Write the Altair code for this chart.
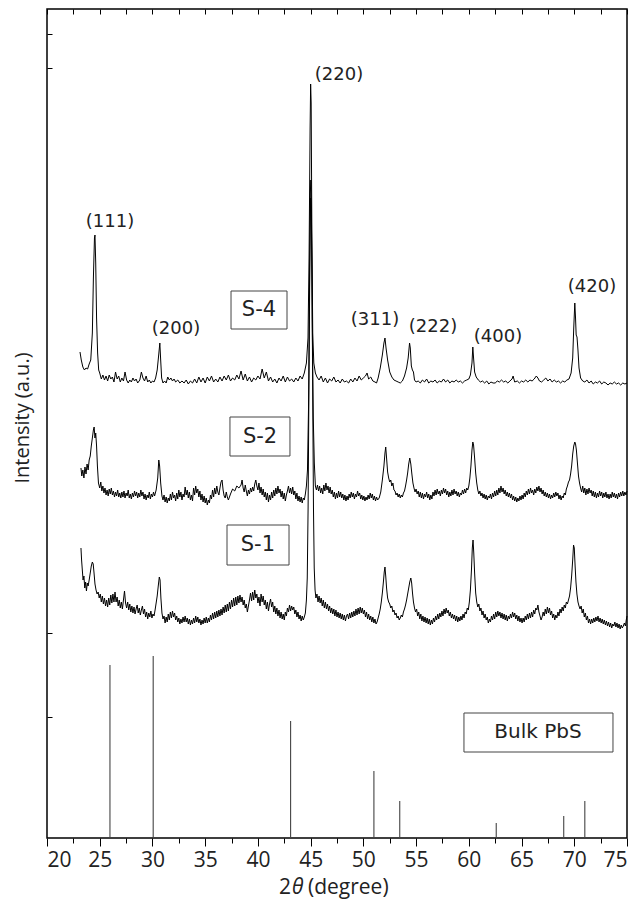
import altair as alt
import pandas as pd

# ---------------- data (2theta in degree, intensity in a.u.) ----------------
s4 = [(23.13,486),(23.25,478),(23.4,471),(23.55,468),(23.7,470),(23.85,469),(24.0,474),(24.15,478),(24.3,505),(24.4,560),(24.5,600),(24.55,603),(24.62,575),(24.7,520),(24.8,485),(24.9,468),(25.0,465),(25.15,459),(25.3,463),(25.45,458),(25.6,462),(25.75,457),(25.9,463),(26.05,459),(26.2,461),(26.35,456),(26.5,466),(26.65,459),(26.8,462),(26.95,456),(27.1,460),(27.25,457),(27.4,466),(27.55,458),(27.7,455),(27.85,458),(28.0,456),(28.15,460),(28.3,457),(28.45,459),(28.6,455),(28.8,458),(28.95,466),(29.1,460),(29.25,457),(29.4,462),(29.55,456),(29.7,458),(29.85,455),(30.0,457),(30.15,456),(30.3,460),(30.45,468),(30.6,484),(30.7,495),(30.78,478),(30.87,460),(31.0,455),(31.15,457),(31.3,455),(31.45,461),(31.6,458),(31.75,460),(31.9,457),(32.05,459),(32.2,456),(32.4,458),(32.6,455),(32.8,457),(33.0,455),(33.2,458),(33.4,454),(33.6,457),(33.8,455),(34.0,459),(34.2,455),(34.4,461),(34.6,456),(34.8,460),(35.0,455),(35.2,461),(35.4,457),(35.6,462),(35.8,456),(36.0,459),(36.2,456),(36.4,461),(36.6,457),(36.8,462),(37.0,458),(37.2,463),(37.4,457),(37.6,460),(37.8,458),(38.0,463),(38.2,459),(38.4,467),(38.6,458),(38.8,464),(39.0,457),(39.2,461),(39.4,456),(39.6,460),(39.8,458),(40.0,462),(40.2,459),(40.4,469),(40.6,460),(40.8,466),(41.0,457),(41.2,461),(41.4,456),(41.6,459),(41.8,455),(42.0,460),(42.2,457),(42.4,462),(42.6,456),(42.8,461),(43.0,457),(43.2,459),(43.4,456),(43.6,460),(43.8,457),(44.0,462),(44.2,459),(44.4,465),(44.6,475),(44.75,500),(44.85,580),(44.95,710),(45.0,754),(45.05,735),(45.12,600),(45.2,505),(45.3,475),(45.45,465),(45.6,461),(45.8,458),(46.0,462),(46.2,456),(46.4,460),(46.6,455),(46.8,459),(47.0,457),(47.2,461),(47.4,456),(47.6,458),(47.8,455),(48.0,459),(48.2,456),(48.4,457),(48.6,455),(48.8,459),(49.0,456),(49.2,460),(49.4,457),(49.6,462),(49.8,458),(50.0,460),(50.2,462),(50.35,465),(50.5,459),(50.7,461),(50.9,457),(51.1,456),(51.25,455),(51.4,460),(51.6,470),(51.8,483),(51.95,495),(52.05,500),(52.15,490),(52.3,478),(52.5,466),(52.7,461),(52.9,458),(53.1,457),(53.3,456),(53.5,455),(53.7,457),(53.9,462),(54.1,470),(54.25,480),(54.38,495),(54.45,490),(54.55,472),(54.65,468),(54.75,466),(54.85,458),(55.0,456),(55.2,457),(55.4,455),(55.6,458),(55.8,456),(56.0,459),(56.2,455),(56.4,457),(56.6,456),(56.8,458),(57.0,455),(57.2,457),(57.4,456),(57.6,459),(57.8,456),(58.0,458),(58.2,455),(58.4,457),(58.6,456),(58.8,458),(59.0,456),(59.2,457),(59.4,455),(59.6,457),(59.8,458),(60.0,459),(60.15,463),(60.3,475),(60.38,491),(60.45,480),(60.55,466),(60.7,461),(60.9,458),(61.1,456),(61.3,457),(61.5,455),(61.7,457),(61.9,454),(62.1,456),(62.3,455),(62.5,455),(62.7,457),(62.9,456),(63.1,458),(63.3,456),(63.5,457),(63.7,455),(63.9,457),(64.1,459),(64.2,462),(64.35,456),(64.6,457),(64.8,455),(65.0,457),(65.2,456),(65.4,458),(65.6,456),(65.8,458),(66.0,457),(66.2,459),(66.4,462),(66.55,460),(66.7,457),(66.9,456),(67.1,458),(67.3,460),(67.5,457),(67.7,459),(67.9,456),(68.1,458),(68.3,456),(68.5,457),(68.7,455),(68.9,457),(69.1,456),(69.3,458),(69.5,459),(69.7,465),(69.85,480),(69.95,510),(70.05,535),(70.12,520),(70.18,503),(70.26,501),(70.35,488),(70.45,470),(70.6,460),(70.8,457),(71.0,456),(71.2,458),(71.4,455),(71.6,457),(71.8,454),(72.0,456),(72.2,455),(72.4,457),(72.6,454),(72.8,456),(73.0,455),(73.2,453),(73.4,455),(73.6,454),(73.8,456),(74.0,454),(74.2,455),(74.4,453),(74.6,455),(74.8,454),(75.0,455)]

s2 = [(23.22,370),(23.3,362),(23.4,368),(23.5,360),(23.6,371),(23.7,364),(23.8,374),(23.9,368),(24.0,378),(24.1,382),(24.2,392),(24.3,400),(24.4,408),(24.47,411),(24.55,400),(24.62,405),(24.7,392),(24.78,372),(24.88,355),(25.0,350),(25.1,356),(25.2,347),(25.3,352),(25.4,345),(25.5,350),(25.6,343),(25.7,348),(25.8,342),(25.9,349),(26.0,344),(26.1,350),(26.2,343),(26.3,347),(26.4,341),(26.5,346),(26.6,342),(26.7,348),(26.8,341),(26.9,345),(27.0,340),(27.1,346),(27.2,341),(27.3,347),(27.4,340),(27.5,345),(27.6,342),(27.7,348),(27.8,340),(27.9,344),(28.0,339),(28.1,345),(28.2,341),(28.3,347),(28.4,342),(28.5,346),(28.6,340),(28.7,345),(28.8,341),(28.9,348),(29.0,342),(29.1,346),(29.2,339),(29.3,344),(29.4,338),(29.5,343),(29.6,340),(29.7,346),(29.8,339),(29.9,344),(30.0,341),(30.1,346),(30.2,342),(30.35,348),(30.5,360),(30.6,378),(30.68,372),(30.78,355),(30.9,342),(31.0,338),(31.1,343),(31.2,336),(31.3,341),(31.4,335),(31.5,340),(31.6,337),(31.7,344),(31.8,338),(31.9,346),(32.0,340),(32.1,343),(32.2,337),(32.3,345),(32.4,339),(32.5,348),(32.6,341),(32.7,346),(32.8,338),(32.9,344),(33.0,341),(33.1,351),(33.2,343),(33.3,348),(33.4,340),(33.5,346),(33.6,338),(33.7,343),(33.8,337),(33.9,350),(34.0,343),(34.1,352),(34.2,345),(34.3,349),(34.4,341),(34.5,347),(34.6,338),(34.7,344),(34.8,336),(34.9,342),(35.0,335),(35.1,340),(35.2,333),(35.3,338),(35.4,335),(35.5,343),(35.6,339),(35.7,348),(35.8,341),(35.9,350),(36.0,344),(36.1,352),(36.2,346),(36.3,343),(36.4,350),(36.5,356),(36.6,358),(36.7,348),(36.8,342),(36.9,340),(37.0,346),(37.1,341),(37.2,338),(37.4,344),(37.6,349),(37.8,347),(38.0,352),(38.2,350),(38.4,353),(38.5,358),(38.6,350),(38.7,346),(38.8,353),(38.9,347),(39.0,342),(39.1,348),(39.2,344),(39.3,350),(39.4,346),(39.5,351),(39.6,347),(39.7,354),(39.8,358),(39.9,352),(40.0,348),(40.1,355),(40.2,345),(40.3,351),(40.4,343),(40.5,349),(40.6,341),(40.7,346),(40.8,338),(40.9,345),(41.0,336),(41.1,343),(41.2,338),(41.3,346),(41.4,340),(41.5,348),(41.6,342),(41.7,350),(41.8,344),(41.9,352),(42.0,345),(42.1,349),(42.2,341),(42.3,347),(42.4,339),(42.5,345),(42.6,337),(42.7,343),(42.8,347),(42.9,352),(43.0,345),(43.1,350),(43.2,344),(43.3,351),(43.4,343),(43.5,347),(43.6,339),(43.7,345),(43.8,337),(43.9,342),(44.0,336),(44.1,341),(44.2,335),(44.3,340),(44.4,338),(44.5,344),(44.6,352),(44.7,368),(44.8,430),(44.9,560),(44.97,645),(45.02,658),(45.08,620),(45.15,520),(45.25,420),(45.35,375),(45.45,352),(45.55,348),(45.65,353),(45.75,347),(45.85,352),(45.95,345),(46.05,350),(46.15,344),(46.25,353),(46.35,347),(46.45,355),(46.55,348),(46.65,352),(46.75,345),(46.85,351),(46.95,344),(47.05,348),(47.15,341),(47.25,346),(47.35,339),(47.45,345),(47.55,340),(47.65,347),(47.75,341),(47.85,346),(47.95,340),(48.05,344),(48.15,338),(48.25,343),(48.35,337),(48.45,342),(48.55,338),(48.65,344),(48.75,340),(48.85,346),(48.95,341),(49.05,345),(49.15,339),(49.25,344),(49.35,341),(49.45,347),(49.55,342),(49.65,345),(49.75,339),(49.85,343),(49.95,338),(50.05,342),(50.15,337),(50.25,341),(50.35,338),(50.45,343),(50.55,339),(50.65,345),(50.75,340),(50.85,344),(50.95,338),(51.05,342),(51.15,337),(51.25,341),(51.35,338),(51.5,340),(51.65,346),(51.8,358),(51.95,372),(52.05,385),(52.12,391),(52.2,380),(52.3,366),(52.4,360),(52.5,356),(52.6,358),(52.7,352),(52.8,355),(52.9,348),(53.0,347),(53.1,343),(53.2,345),(53.3,341),(53.4,344),(53.5,340),(53.6,343),(53.7,341),(53.8,345),(53.9,347),(54.0,352),(54.1,358),(54.2,365),(54.3,374),(54.4,380),(54.5,374),(54.6,364),(54.7,355),(54.8,350),(54.9,346),(55.0,349),(55.1,344),(55.2,347),(55.3,341),(55.4,346),(55.5,340),(55.6,345),(55.7,339),(55.8,344),(55.9,341),(56.0,346),(56.1,340),(56.2,344),(56.3,338),(56.4,343),(56.5,339),(56.6,346),(56.7,342),(56.8,348),(56.9,343),(57.0,349),(57.1,344),(57.2,347),(57.3,342),(57.4,348),(57.5,344),(57.6,350),(57.7,345),(57.8,349),(57.9,343),(58.0,347),(58.1,341),(58.2,346),(58.3,342),(58.4,348),(58.5,343),(58.6,349),(58.7,344),(58.8,347),(58.9,342),(59.0,346),(59.1,341),(59.2,345),(59.3,343),(59.4,348),(59.5,344),(59.6,349),(59.7,345),(59.8,350),(59.9,348),(60.0,352),(60.1,360),(60.2,372),(60.3,388),(60.38,396),(60.45,393),(60.55,380),(60.65,365),(60.75,355),(60.85,348),(60.95,344),(61.05,347),(61.15,342),(61.25,345),(61.35,340),(61.45,344),(61.55,339),(61.65,343),(61.75,338),(61.85,342),(61.95,340),(62.05,344),(62.15,339),(62.25,345),(62.35,341),(62.45,347),(62.55,342),(62.65,348),(62.75,343),(62.85,350),(62.95,345),(63.05,352),(63.15,346),(63.25,350),(63.35,344),(63.45,348),(63.55,342),(63.65,346),(63.75,341),(63.85,345),(63.95,340),(64.05,344),(64.15,338),(64.25,342),(64.35,337),(64.45,341),(64.55,336),(64.65,340),(64.75,337),(64.85,342),(64.95,338),(65.05,343),(65.15,339),(65.25,345),(65.35,341),(65.45,347),(65.55,343),(65.65,349),(65.75,344),(65.85,350),(65.95,345),(66.05,348),(66.15,343),(66.25,349),(66.35,345),(66.45,351),(66.55,347),(66.65,352),(66.75,346),(66.85,350),(66.95,344),(67.05,348),(67.15,342),(67.25,346),(67.35,341),(67.45,345),(67.55,340),(67.65,344),(67.75,339),(67.85,343),(67.95,340),(68.05,345),(68.15,341),(68.25,346),(68.35,342),(68.45,345),(68.55,339),(68.65,343),(68.75,338),(68.85,342),(68.95,340),(69.05,345),(69.15,343),(69.25,349),(69.35,352),(69.45,356),(69.55,358),(69.65,364),(69.75,372),(69.85,384),(69.95,392),(70.05,396),(70.12,394),(70.2,388),(70.3,375),(70.4,362),(70.5,355),(70.6,350),(70.7,346),(70.8,352),(70.9,345),(71.0,350),(71.1,343),(71.2,349),(71.3,344),(71.4,350),(71.5,345),(71.6,348),(71.7,342),(71.8,347),(71.9,341),(72.0,346),(72.1,340),(72.2,345),(72.3,341),(72.4,347),(72.5,342),(72.6,346),(72.7,340),(72.8,345),(72.9,341),(73.0,346),(73.1,340),(73.2,344),(73.3,339),(73.4,344),(73.5,340),(73.6,346),(73.7,341),(73.8,345),(73.9,340),(74.0,344),(74.1,339),(74.2,345),(74.3,341),(74.4,346),(74.5,342),(74.6,347),(74.7,342),(74.8,346),(74.9,343),(75.0,347)]

s1 = [(23.22,290),(23.28,278),(23.35,268),(23.42,258),(23.5,262),(23.58,250),(23.66,256),(23.74,247),(23.82,255),(23.9,252),(24.0,258),(24.1,265),(24.2,272),(24.3,276),(24.38,274),(24.46,265),(24.55,254),(24.65,248),(24.75,244),(24.85,246),(24.95,240),(25.05,244),(25.15,236),(25.25,242),(25.35,234),(25.45,240),(25.55,232),(25.65,238),(25.75,231),(25.85,240),(25.95,233),(26.05,243),(26.15,235),(26.25,244),(26.35,236),(26.45,246),(26.55,236),(26.65,241),(26.75,232),(26.85,238),(26.95,230),(27.05,236),(27.15,229),(27.25,238),(27.35,247),(27.45,235),(27.55,230),(27.65,236),(27.75,228),(27.85,234),(27.95,226),(28.05,232),(28.15,225),(28.25,231),(28.35,224),(28.45,229),(28.55,233),(28.65,225),(28.75,230),(28.85,223),(28.95,228),(29.05,232),(29.15,224),(29.25,229),(29.35,221),(29.45,226),(29.55,219),(29.65,225),(29.75,221),(29.85,227),(29.95,220),(30.05,224),(30.15,222),(30.25,228),(30.35,235),(30.45,242),(30.55,252),(30.65,261),(30.72,258),(30.8,240),(30.9,225),(31.0,219),(31.1,222),(31.2,215),(31.3,221),(31.4,216),(31.5,224),(31.6,218),(31.7,226),(31.8,220),(31.9,227),(32.0,221),(32.1,225),(32.2,218),(32.3,222),(32.4,216),(32.5,220),(32.6,214),(32.7,219),(32.8,215),(32.9,221),(33.0,216),(33.1,222),(33.2,216),(33.3,220),(33.4,214),(33.5,219),(33.6,213),(33.7,218),(33.8,214),(33.9,220),(34.0,215),(34.1,222),(34.2,216),(34.3,221),(34.4,215),(34.5,219),(34.6,213),(34.7,218),(34.8,214),(34.9,220),(35.0,215),(35.1,221),(35.2,215),(35.3,220),(35.4,216),(35.5,223),(35.6,218),(35.7,225),(35.8,219),(35.9,226),(36.0,220),(36.1,227),(36.2,221),(36.3,228),(36.4,222),(36.5,229),(36.6,223),(36.7,231),(36.8,225),(36.9,233),(37.0,226),(37.1,234),(37.2,227),(37.3,236),(37.4,229),(37.5,238),(37.6,231),(37.7,240),(37.8,232),(37.9,241),(38.0,233),(38.1,242),(38.2,235),(38.3,243),(38.4,236),(38.5,241),(38.6,233),(38.7,238),(38.8,230),(38.9,234),(39.0,226),(39.1,232),(39.2,238),(39.3,245),(39.4,237),(39.5,246),(39.6,238),(39.7,248),(39.8,240),(39.9,244),(40.0,235),(40.1,241),(40.2,232),(40.3,244),(40.4,236),(40.5,242),(40.6,233),(40.7,238),(40.8,229),(40.9,236),(41.0,227),(41.1,234),(41.2,239),(41.3,231),(41.4,236),(41.5,226),(41.6,232),(41.7,224),(41.8,230),(41.9,222),(42.0,228),(42.1,220),(42.2,226),(42.3,219),(42.4,224),(42.5,218),(42.6,226),(42.7,222),(42.8,230),(42.9,226),(43.0,233),(43.1,227),(43.2,232),(43.3,228),(43.4,231),(43.5,224),(43.6,228),(43.7,221),(43.8,226),(43.9,219),(44.0,223),(44.1,217),(44.2,222),(44.3,218),(44.4,221),(44.5,225),(44.6,238),(44.68,260),(44.76,330),(44.84,450),(44.92,570),(45.0,640),(45.06,630),(45.13,560),(45.2,440),(45.27,330),(45.34,270),(45.42,248),(45.5,240),(45.6,244),(45.7,236),(45.8,242),(45.9,235),(46.0,240),(46.1,232),(46.2,238),(46.3,230),(46.4,236),(46.5,229),(46.6,234),(46.7,227),(46.8,232),(46.9,225),(47.0,230),(47.1,224),(47.2,229),(47.3,222),(47.4,228),(47.5,221),(47.6,226),(47.7,220),(47.8,225),(47.9,219),(48.0,224),(48.1,218),(48.2,223),(48.3,217),(48.4,222),(48.5,224),(48.6,219),(48.7,225),(48.8,220),(48.9,226),(49.0,221),(49.1,227),(49.2,222),(49.3,229),(49.4,223),(49.5,230),(49.6,224),(49.7,231),(49.8,225),(49.9,230),(50.0,224),(50.1,228),(50.2,221),(50.3,226),(50.4,219),(50.5,224),(50.6,218),(50.7,222),(50.8,216),(50.9,221),(51.0,215),(51.1,219),(51.2,214),(51.3,216),(51.4,220),(51.5,224),(51.6,229),(51.7,236),(51.8,245),(51.9,256),(51.98,266),(52.05,271),(52.12,262),(52.2,250),(52.3,240),(52.4,236),(52.5,234),(52.6,230),(52.7,232),(52.8,226),(52.9,228),(53.0,223),(53.1,225),(53.2,220),(53.3,222),(53.4,218),(53.5,220),(53.6,223),(53.7,221),(53.8,226),(53.9,229),(54.0,233),(54.1,238),(54.2,244),(54.3,250),(54.4,256),(54.5,260),(54.58,255),(54.66,245),(54.75,236),(54.85,230),(54.95,226),(55.05,229),(55.15,222),(55.25,226),(55.35,219),(55.45,224),(55.55,217),(55.65,222),(55.75,216),(55.85,221),(55.95,215),(56.05,220),(56.15,214),(56.25,219),(56.35,213),(56.45,218),(56.55,214),(56.65,220),(56.75,216),(56.85,222),(56.95,218),(57.05,224),(57.15,219),(57.25,225),(57.35,221),(57.45,227),(57.55,222),(57.65,229),(57.75,224),(57.85,230),(57.95,225),(58.05,228),(58.15,222),(58.25,226),(58.35,220),(58.45,224),(58.55,219),(58.65,223),(58.75,217),(58.85,222),(58.95,216),(59.05,221),(59.15,217),(59.25,222),(59.35,218),(59.45,224),(59.55,220),(59.65,226),(59.75,224),(59.85,230),(59.95,228),(60.05,236),(60.15,248),(60.25,268),(60.33,290),(60.4,298),(60.47,285),(60.55,265),(60.65,245),(60.75,236),(60.85,231),(60.95,234),(61.05,227),(61.15,230),(61.25,223),(61.35,227),(61.45,220),(61.55,224),(61.65,218),(61.75,221),(61.85,215),(61.95,219),(62.05,216),(62.15,222),(62.25,218),(62.35,224),(62.45,219),(62.55,226),(62.65,221),(62.75,227),(62.85,222),(62.95,226),(63.05,220),(63.15,225),(63.25,219),(63.35,224),(63.45,218),(63.55,223),(63.65,217),(63.75,222),(63.85,219),(63.95,224),(64.05,220),(64.15,226),(64.25,221),(64.35,225),(64.45,219),(64.55,223),(64.65,217),(64.75,222),(64.85,216),(64.95,220),(65.05,215),(65.15,220),(65.25,216),(65.35,222),(65.45,218),(65.55,224),(65.65,219),(65.75,225),(65.85,220),(65.95,226),(66.05,221),(66.15,228),(66.25,224),(66.35,230),(66.45,228),(66.55,233),(66.65,226),(66.75,222),(66.85,218),(66.95,221),(67.05,226),(67.15,222),(67.25,229),(67.35,224),(67.45,231),(67.55,225),(67.65,230),(67.75,223),(67.85,227),(67.95,220),(68.05,224),(68.15,218),(68.25,223),(68.35,220),(68.45,226),(68.55,222),(68.65,229),(68.75,225),(68.85,231),(68.95,227),(69.05,233),(69.15,230),(69.25,236),(69.35,234),(69.45,238),(69.55,242),(69.65,250),(69.75,262),(69.85,278),(69.93,293),(70.0,290),(70.08,272),(70.16,256),(70.25,244),(70.35,236),(70.45,232),(70.55,229),(70.65,232),(70.75,225),(70.85,229),(70.95,221),(71.05,225),(71.15,218),(71.25,222),(71.35,215),(71.45,219),(71.55,214),(71.65,219),(71.75,215),(71.85,220),(71.95,216),(72.05,221),(72.15,217),(72.25,222),(72.35,216),(72.45,220),(72.55,215),(72.65,219),(72.75,214),(72.85,218),(72.95,213),(73.05,217),(73.15,212),(73.25,216),(73.35,211),(73.45,215),(73.55,210),(73.65,214),(73.75,212),(73.85,216),(73.95,211),(74.05,215),(74.15,210),(74.25,214),(74.35,209),(74.45,213),(74.55,210),(74.65,212),(74.75,215),(74.85,212),(74.93,218),(75.0,222)]

bulk_angle = [25.97, 30.07, 43.1, 51.0, 53.45, 62.6, 69.0, 71.0]
bulk_intensity = [173, 182, 117, 67, 37, 15, 22, 37]

peak_labels = ["(111)", "(200)", "(220)", "(311)", "(222)", "(400)", "(420)"]
peak_label_angle = [25.97, 32.23, 47.69, 51.1, 56.6, 62.77, 71.68]
peak_label_intensity = [616, 509, 763, 518, 511, 501, 551]

box_labels = ["S-4", "S-2", "S-1", "Bulk PbS"]
box_x1 = [37.45, 37.35, 37.07, 59.54]
box_x2 = [42.76, 43.04, 42.95, 73.67]
box_y1 = [509, 382, 273, 86]
box_y2 = [547, 421, 313, 125]
box_text_angle = [40.1, 40.2, 40.0, 66.56]
box_text_intensity = [528, 401, 293, 106]
box_font = [21, 21, 21, 20]

x_ticks = [20 + 2.5 * i for i in range(23)]
y_ticks_left = [804, 770, 205, 121]

# ---------------- tables ----------------
rows = []
for name, ser in (("S-4", s4), ("S-2", s2), ("S-1", s1)):
    for i, (a, v) in enumerate(ser):
        rows.append({"series": name, "idx": i, "angle": a, "intensity": v})
curves = pd.DataFrame(rows)
bulk = pd.DataFrame({"angle": bulk_angle, "intensity": bulk_intensity, "zero": [0] * len(bulk_angle)})
peaks = pd.DataFrame({"label": peak_labels, "angle": peak_label_angle, "intensity": peak_label_intensity})
boxes = pd.DataFrame({"label": box_labels, "x1": box_x1, "x2": box_x2, "y1": box_y1, "y2": box_y2,
                      "tx": box_text_angle, "ty": box_text_intensity, "fs": box_font})

xs = alt.Scale(domain=[20, 75], nice=False, zero=False)
ys = alt.Scale(domain=[0, 829], nice=False, zero=False)

tick_font = "Open Sans"
ann_font = "DejaVu Sans"

x_bottom = alt.Axis(
    orient="bottom", values=x_ticks, domain=False, grid=False, title=None,
    labelExpr="datum.value % 5 === 0 ? datum.label : ''", format="d",
    tickSize={"condition": {"test": "datum.value % 5 === 0", "value": 8}, "value": 5},
    tickColor="black", tickWidth=1, labelFont=tick_font, labelFontSize=21,
    labelColor="#222", labelPadding=3,
)
x_top = alt.Axis(orient="top", values=x_ticks, domain=False, grid=False, title=None,
                 labels=False, tickSize=5, offset=-5, tickColor="black", tickWidth=1)
y_left = alt.Axis(orient="left", values=y_ticks_left, domain=False, grid=False, title=None,
                  labels=False, tickSize=5, offset=-5, tickColor="black", tickWidth=1)

lines = alt.Chart(curves).mark_line(color="black", strokeWidth=1).encode(
    x=alt.X("angle:Q", scale=xs, axis=x_bottom),
    y=alt.Y("intensity:Q", scale=ys, axis=y_left),
    detail="series:N",
    order="idx:Q",
)

sticks = alt.Chart(bulk).mark_rule(color="#444", strokeWidth=1.1).encode(
    x=alt.X("angle:Q", scale=xs, axis=x_top),
    y=alt.Y("zero:Q", scale=ys, axis=None),
    y2="intensity:Q",
)

peak_text = alt.Chart(peaks).mark_text(font=ann_font, fontSize=18, color="#222").encode(
    x=alt.X("angle:Q", scale=xs, axis=None),
    y=alt.Y("intensity:Q", scale=ys, axis=None),
    text="label:N",
)

box_rect = alt.Chart(boxes).mark_rect(fill="white", stroke="#444", strokeWidth=1).encode(
    x=alt.X("x1:Q", scale=xs, axis=None), x2="x2:Q",
    y=alt.Y("y1:Q", scale=ys, axis=None), y2="y2:Q",
)
box_text = alt.Chart(boxes).mark_text(font=ann_font, color="#222").encode(
    x=alt.X("tx:Q", scale=xs, axis=None),
    y=alt.Y("ty:Q", scale=ys, axis=None),
    text="label:N",
    size=alt.Size("fs:Q", scale=None),
)

title_parts = pd.DataFrame({"t": ["2", "\u03b8", "(degree)"], "px": [232, 245, 261],
                            "st": ["normal", "italic", "normal"]})
x_title_a = alt.Chart(title_parts).transform_filter("datum.st == 'normal'").mark_text(
    font=tick_font, fontSize=21, align="left", baseline="middle", color="#222"
).encode(x=alt.X("px:Q", scale=None, axis=None), y=alt.value(879), text="t:N")
x_title_b = alt.Chart(title_parts).transform_filter("datum.st == 'italic'").mark_text(
    font=tick_font, fontSize=21, fontStyle="italic", align="left", baseline="middle", color="#222"
).encode(x=alt.X("px:Q", scale=None, axis=None), y=alt.value(879), text="t:N")

y_title = alt.Chart(pd.DataFrame({"t": ["Intensity (a.u.)"]})).mark_text(
    font=tick_font, fontSize=20, angle=270, align="center", baseline="middle", color="#222"
).encode(x=alt.value(-24), y=alt.value(409), text="t:N")

chart = alt.layer(
    sticks, lines, box_rect, box_text, peak_text, x_title_a, x_title_b, y_title
).resolve_axis(x="independent", y="independent").properties(
    width=580, height=829,
    autosize=alt.AutoSizeParams(type="none"),
    padding={"left": 39, "top": 1, "right": 5, "bottom": 75},
).configure_view(stroke="black", strokeWidth=1.5)

chart.save("out.html", embed_options={"renderer": "svg", "actions": False})
